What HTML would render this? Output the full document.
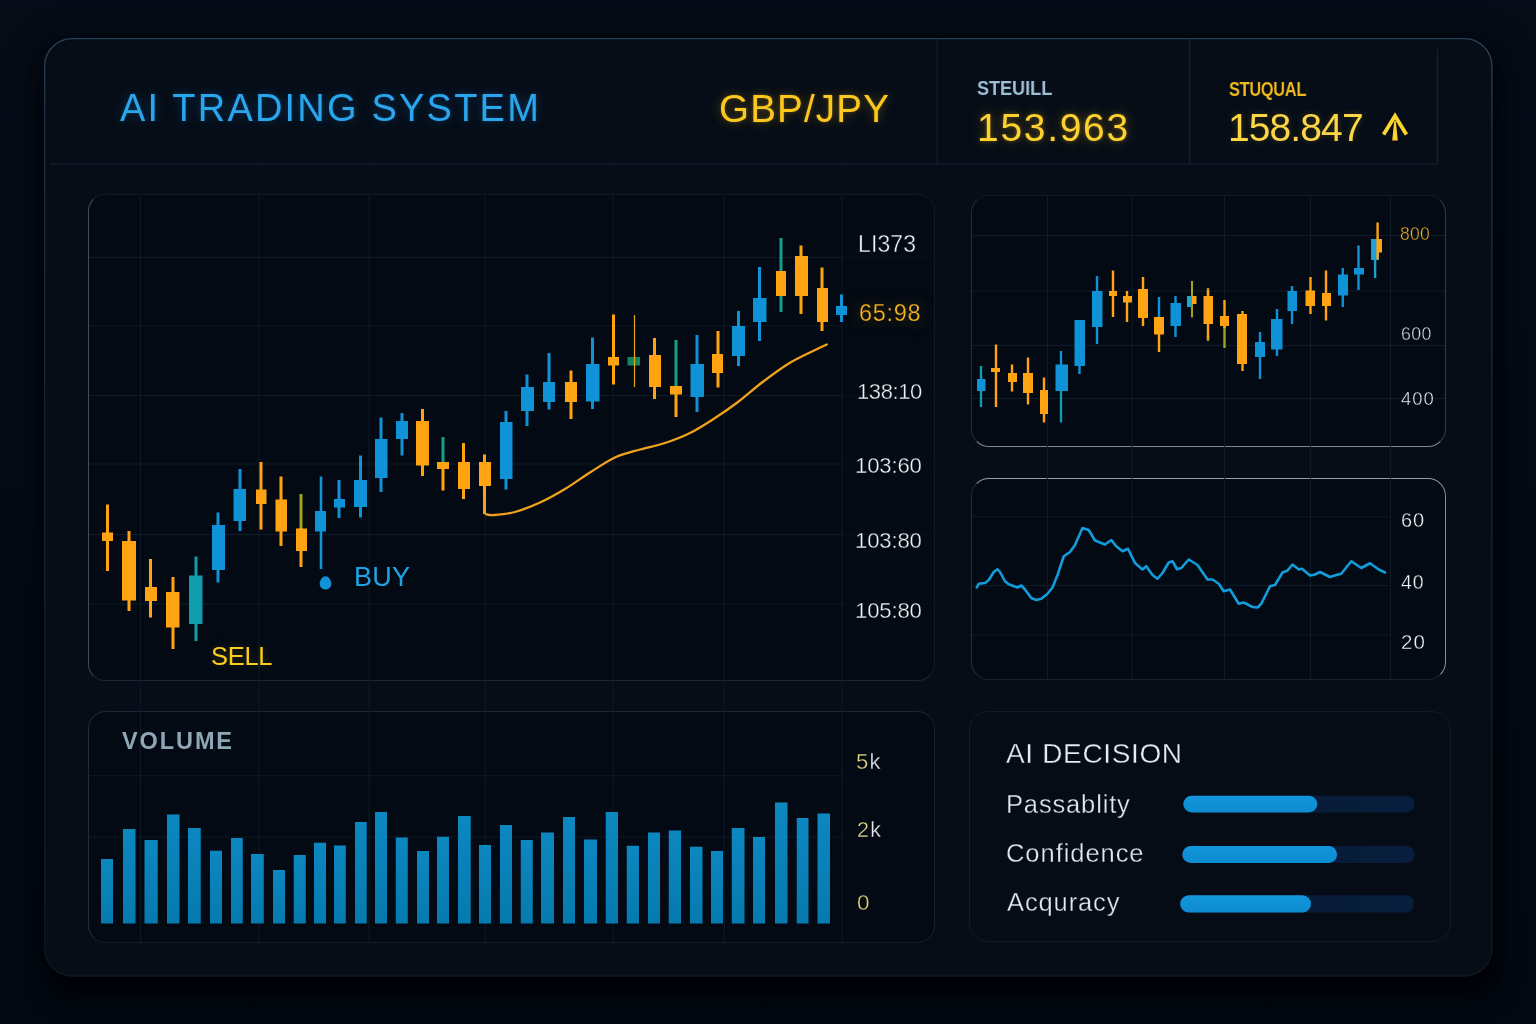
<!DOCTYPE html>
<html><head><meta charset="utf-8"><title>AI Trading System</title>
<style>
html,body{margin:0;padding:0;background:#030a14;}
body{width:1536px;height:1024px;overflow:hidden;position:relative;font-family:"Liberation Sans",sans-serif;}
#bg{position:absolute;left:0;top:0;width:1536px;height:1024px;background:linear-gradient(180deg,#050c17 0%,#040b15 45%,#030912 100%);}
#outer{position:absolute;left:44px;top:38px;width:1448.5px;height:938.5px;border:0;border-radius:28px;background:#060d17;box-shadow:5px 22px 26px -6px rgba(0,1,5,.92),0 2px 14px rgba(0,2,6,.55),2px 8px 44px rgba(0,2,6,.3);}
.panel{position:absolute;box-sizing:border-box;border:1.2px solid #27313e;background:#030a13;}
.t{position:absolute;white-space:nowrap;line-height:1;will-change:transform;}
.th{-webkit-text-stroke:0.36px #030a13;}
.th2{-webkit-text-stroke:0.32px #050c16;}
svg{position:absolute;left:0;top:0;}
</style></head><body>
<div id="bg"></div>
<div id="outer"></div>
<div class="panel" style="left:88px;top:194px;width:846.5px;height:486.5px;border-radius:17px;border-color:#0e1b29 #0f1a26 #19293b #474c56;"></div>
<div class="panel" style="left:971px;top:195px;width:475px;height:252px;border-radius:18px;border-color:#101c2a #333c47 #85888c #242d38;"></div>
<div class="panel" style="left:971px;top:478px;width:475px;height:202px;border-radius:18px;border-color:#9a9ca0 #8a8d93 #17222f #242d38;"></div>
<div class="panel" style="left:88px;top:710.5px;width:846.5px;height:232.5px;border-radius:18px;border-color:#19293b #131f2d #101c2a #222c38;"></div>
<div class="panel" style="left:969px;top:711px;width:482px;height:230.5px;border-radius:20px;border-color:#0f1d2b;background:#050c16;"></div>
<svg width="1536" height="1024" viewBox="0 0 1536 1024">
<defs>
<linearGradient id="ob" x1="0" y1="0" x2="0" y2="1"><stop offset="0" stop-color="#2a4158"/><stop offset="0.1" stop-color="#1b2f43"/><stop offset="0.45" stop-color="#13232f"/><stop offset="1" stop-color="#0b1621"/></linearGradient>
<linearGradient id="vg" x1="0" y1="0" x2="0" y2="1"><stop offset="0" stop-color="#0c87c0"/><stop offset="1" stop-color="#067aae"/></linearGradient>
<linearGradient id="pf" x1="0" y1="0" x2="0" y2="1"><stop offset="0" stop-color="#1296dc"/><stop offset="1" stop-color="#0d8bd0"/></linearGradient>
<linearGradient id="tk" x1="0" y1="0" x2="1" y2="0"><stop offset="0" stop-color="#061930"/><stop offset="1" stop-color="#081e3d"/></linearGradient>
<filter id="gl2" x="-5%" y="-20%" width="110%" height="140%"><feGaussianBlur stdDeviation="6"/></filter>
<filter id="gl" x="-20%" y="-20%" width="140%" height="140%"><feGaussianBlur stdDeviation="3"/></filter>
</defs>
<rect x="44.65" y="38.65" width="1447.2" height="937.2" rx="27.5" fill="none" stroke="url(#ob)" stroke-width="1.3"/>
<!-- header lines -->
<rect x="50" y="163.4" width="1387.5" height="1.2" fill="#112033"/>
<rect x="936.6999999999999" y="39" width="1.2" height="125" fill="#112033"/>
<rect x="1189.0" y="39" width="1.2" height="125" fill="#112033"/>
<rect x="1436.8000000000002" y="49" width="1.2" height="115" fill="#112033"/>
<rect x="140.1" y="196" width="1" height="746" fill="#0f1b28"/>
<rect x="140.1" y="165" width="1" height="29" fill="#06101a"/>
<rect x="258.5" y="196" width="1" height="746" fill="#0f1b28"/>
<rect x="258.5" y="165" width="1" height="29" fill="#06101a"/>
<rect x="368.5" y="196" width="1" height="746" fill="#0f1b28"/>
<rect x="368.5" y="165" width="1" height="29" fill="#06101a"/>
<rect x="484.8" y="196" width="1" height="746" fill="#0f1b28"/>
<rect x="484.8" y="165" width="1" height="29" fill="#06101a"/>
<rect x="612.5" y="196" width="1" height="746" fill="#0f1b28"/>
<rect x="612.5" y="165" width="1" height="29" fill="#06101a"/>
<rect x="723.8" y="196" width="1" height="746" fill="#0f1b28"/>
<rect x="723.8" y="165" width="1" height="29" fill="#06101a"/>
<rect x="841.5" y="196" width="1" height="746" fill="#0f1b28"/>
<rect x="841.5" y="165" width="1" height="29" fill="#06101a"/>
<rect x="89" y="257.0" width="753" height="1" fill="#0f1b28"/>
<rect x="842" y="257.0" width="91" height="1" fill="#07111a"/>
<rect x="89" y="325.5" width="753" height="1" fill="#0f1b28"/>
<rect x="842" y="325.5" width="91" height="1" fill="#07111a"/>
<rect x="89" y="395.0" width="753" height="1" fill="#0f1b28"/>
<rect x="842" y="395.0" width="91" height="1" fill="#07111a"/>
<rect x="89" y="463.5" width="753" height="1" fill="#0f1b28"/>
<rect x="842" y="463.5" width="91" height="1" fill="#07111a"/>
<rect x="89" y="534.0" width="753" height="1" fill="#0f1b28"/>
<rect x="842" y="534.0" width="91" height="1" fill="#07111a"/>
<rect x="89" y="603.5" width="753" height="1" fill="#0f1b28"/>
<rect x="842" y="603.5" width="91" height="1" fill="#07111a"/>
<rect x="1047.0" y="196" width="1" height="484" fill="#0f1b28"/>
<rect x="1131.7" y="196" width="1" height="484" fill="#0f1b28"/>
<rect x="1224.0" y="196" width="1" height="484" fill="#0f1b28"/>
<rect x="1310.0" y="196" width="1" height="484" fill="#0f1b28"/>
<rect x="1390.0" y="196" width="1" height="484" fill="#0f1b28"/>
<rect x="972" y="235.0" width="473" height="1" fill="#0f1b28"/>
<rect x="972" y="290.5" width="473" height="1" fill="#0f1b28"/>
<rect x="972" y="345.0" width="473" height="1" fill="#0f1b28"/>
<rect x="972" y="398.0" width="473" height="1" fill="#0f1b28"/>
<rect x="972" y="516.25" width="418.5" height="1" fill="#0f1b28"/>
<rect x="972" y="585.0" width="418.5" height="1" fill="#0f1b28"/>
<rect x="972" y="634.5" width="418.5" height="1" fill="#0f1b28"/>
<rect x="89" y="775.25" width="753" height="1" fill="#0f1b28"/>
<rect x="89" y="836.5" width="753" height="1" fill="#0f1b28"/>
<!-- main candles -->
<rect x="106.00" y="504.5" width="3" height="66.50" fill="#ffa312"/>
<rect x="102" y="532.5" width="11.00" height="8.50" fill="#ffa312"/>
<rect x="127.50" y="531" width="3" height="80.00" fill="#ffa312"/>
<rect x="122" y="541" width="14.00" height="59.50" fill="#ffa312"/>
<rect x="149.00" y="559" width="3" height="58.50" fill="#ffa312"/>
<rect x="145" y="587" width="12.00" height="14.00" fill="#ffa312"/>
<rect x="171.50" y="577" width="3" height="72.00" fill="#ffa312"/>
<rect x="166" y="592" width="13.50" height="35.50" fill="#ffa312"/>
<rect x="194.50" y="556.5" width="3" height="84.50" fill="#0f9dac"/>
<rect x="189" y="575.5" width="13.50" height="48.50" fill="#0f9dac"/>
<rect x="216.50" y="512.5" width="3" height="70.00" fill="#1093d6"/>
<rect x="212" y="525" width="13.00" height="45.00" fill="#1093d6"/>
<rect x="238.50" y="469" width="3" height="62.00" fill="#1093d6"/>
<rect x="233.5" y="489" width="12.50" height="32.00" fill="#1093d6"/>
<rect x="259.50" y="462" width="3" height="67.50" fill="#ffa312"/>
<rect x="256" y="489.5" width="10.50" height="14.50" fill="#ffa312"/>
<rect x="279.50" y="476.5" width="3" height="69.50" fill="#ffa312"/>
<rect x="275.5" y="499.5" width="11.50" height="32.00" fill="#ffa312"/>
<rect x="299.50" y="494" width="3" height="35.00" fill="#a3a31a"/>
<rect x="299.50" y="528" width="3" height="39.00" fill="#ffa312"/>
<rect x="296" y="528.5" width="11.00" height="22.50" fill="#ffa312"/>
<rect x="319.70" y="476.5" width="2.6" height="92.50" fill="#1093d6"/>
<rect x="315" y="511" width="11.00" height="20.50" fill="#1093d6"/>
<rect x="337.50" y="480" width="3" height="38.00" fill="#1093d6"/>
<rect x="334" y="499" width="11.00" height="8.50" fill="#1093d6"/>
<rect x="359.00" y="455.5" width="3" height="62.00" fill="#1093d6"/>
<rect x="354" y="480" width="13.00" height="27.00" fill="#1093d6"/>
<rect x="379.50" y="417.5" width="3" height="74.50" fill="#1093d6"/>
<rect x="375" y="439" width="12.50" height="39.00" fill="#1093d6"/>
<rect x="400.50" y="413" width="3" height="42.50" fill="#1093d6"/>
<rect x="396" y="421" width="12.00" height="18.00" fill="#1093d6"/>
<rect x="421.00" y="409" width="3" height="67.00" fill="#ffa312"/>
<rect x="416" y="421" width="13.00" height="44.50" fill="#ffa312"/>
<rect x="441.50" y="437" width="3" height="25.00" fill="#159f88"/>
<rect x="441.50" y="462" width="3" height="28.50" fill="#ffa312"/>
<rect x="437" y="462" width="12.00" height="7.00" fill="#ffa312"/>
<rect x="462.00" y="443" width="3" height="56.00" fill="#ffa312"/>
<rect x="458" y="462" width="12.00" height="27.00" fill="#ffa312"/>
<rect x="483.00" y="454.5" width="3" height="59.50" fill="#ffa312"/>
<rect x="479" y="462" width="12.00" height="24.00" fill="#ffa312"/>
<rect x="504.50" y="411" width="3" height="78.50" fill="#1093d6"/>
<rect x="500" y="422" width="12.50" height="57.00" fill="#1093d6"/>
<rect x="525.50" y="374.5" width="3" height="51.50" fill="#1093d6"/>
<rect x="521" y="387" width="13.00" height="24.00" fill="#1093d6"/>
<rect x="547.50" y="353" width="3" height="56.50" fill="#1093d6"/>
<rect x="543" y="382" width="12.00" height="20.00" fill="#1093d6"/>
<rect x="569.50" y="370.5" width="3" height="48.50" fill="#ffa312"/>
<rect x="565" y="382" width="12.00" height="20.00" fill="#ffa312"/>
<rect x="591.00" y="337.5" width="3" height="71.50" fill="#1093d6"/>
<rect x="586" y="364" width="13.50" height="37.50" fill="#1093d6"/>
<rect x="612.00" y="314.5" width="3" height="70.00" fill="#ffa312"/>
<rect x="608" y="357" width="11.00" height="8.50" fill="#ffa312"/>
<rect x="627.5" y="357" width="12.50" height="8.50" fill="#15855f"/>
<rect x="633.90" y="315" width="1.2" height="72.00" fill="#e8a818"/>
<rect x="653.00" y="338" width="3" height="61.00" fill="#ffa312"/>
<rect x="649" y="355" width="12.00" height="32.00" fill="#ffa312"/>
<rect x="674.50" y="340" width="3" height="46.00" fill="#159f88"/>
<rect x="674.50" y="386" width="3" height="31.00" fill="#ffa312"/>
<rect x="670" y="386" width="12.00" height="8.50" fill="#ffa312"/>
<rect x="695.50" y="335" width="3" height="77.00" fill="#1093d6"/>
<rect x="690.5" y="364" width="13.50" height="33.00" fill="#1093d6"/>
<rect x="716.50" y="331" width="3" height="56.50" fill="#ffa312"/>
<rect x="712" y="354" width="11.00" height="19.00" fill="#ffa312"/>
<rect x="737.00" y="311" width="3" height="55.00" fill="#1093d6"/>
<rect x="732" y="326" width="13.00" height="30.00" fill="#1093d6"/>
<rect x="758.00" y="267" width="3" height="74.00" fill="#1093d6"/>
<rect x="753" y="298" width="13.50" height="24.00" fill="#1093d6"/>
<rect x="779.50" y="238" width="3" height="33.00" fill="#159f88"/>
<rect x="779.50" y="296" width="3" height="16.00" fill="#159f88"/>
<rect x="779.50" y="271" width="3" height="25.00" fill="#ffa312"/>
<rect x="776" y="271" width="10.00" height="25.00" fill="#ffa312"/>
<rect x="799.50" y="245.5" width="3" height="68.50" fill="#ffa312"/>
<rect x="795" y="256" width="13.00" height="40.00" fill="#ffa312"/>
<rect x="820.50" y="267.5" width="3" height="63.50" fill="#ffa312"/>
<rect x="817" y="288" width="11.00" height="34.00" fill="#ffa312"/>
<rect x="840.00" y="294.5" width="3" height="27.50" fill="#1093d6"/>
<rect x="836" y="306" width="11.00" height="9.00" fill="#1093d6"/>
<path d="M484.6,500 L484.6,512 C484.92,512.38 484.77,513.80 486.5,514.3 C488.23,514.80 490.25,515.38 495,515 C499.75,514.62 507.50,514.08 515,512 C522.50,509.92 531.67,506.33 540,502.5 C548.33,498.67 556.67,494.00 565,489 C573.33,484.00 581.67,477.75 590,472.5 C598.33,467.25 606.67,461.33 615,457.5 C623.33,453.67 631.67,451.92 640,449.5 C648.33,447.08 656.67,445.75 665,443 C673.33,440.25 681.67,437.17 690,433 C698.33,428.83 707.00,423.17 715,418 C723.00,412.83 730.17,407.92 738,402 C745.83,396.08 753.67,388.83 762,382.5 C770.33,376.17 779.67,369.17 788,364 C796.33,358.83 805.54,354.75 812,351.5 C818.46,348.25 824.29,345.67 826.75,344.5" fill="none" stroke="#f0a21a" stroke-width="2.3" stroke-linejoin="round" stroke-linecap="round"/>
<path d="M325.5,576.2 C328.3,576.2 331.3,579.8 331.3,583.8 C331.3,587.2 328.8,589.6 325.5,589.6 C322.2,589.6 319.7,587.2 319.7,583.8 C319.7,579.8 322.7,576.2 325.5,576.2Z" fill="#1093d6"/>
<!-- mini candles -->
<rect x="979.80" y="366" width="2.4" height="41.00" fill="#0f9dac"/>
<rect x="979.80" y="379" width="2.4" height="12.00" fill="#1093d6"/>
<rect x="977" y="379" width="8.50" height="12.00" fill="#1093d6"/>
<rect x="994.80" y="344.5" width="2.4" height="62.50" fill="#ffa312"/>
<rect x="991" y="368" width="9.00" height="4.00" fill="#ffa312"/>
<rect x="1010.80" y="364.5" width="2.4" height="27.00" fill="#ffa312"/>
<rect x="1008" y="373" width="9.00" height="9.00" fill="#ffa312"/>
<rect x="1026.80" y="357.5" width="2.4" height="47.00" fill="#ffa312"/>
<rect x="1023" y="373" width="10.00" height="20.00" fill="#ffa312"/>
<rect x="1042.80" y="377.5" width="2.4" height="45.00" fill="#ffa312"/>
<rect x="1040" y="390" width="8.00" height="24.00" fill="#ffa312"/>
<rect x="1059.80" y="391" width="2.4" height="31.50" fill="#0f9dac"/>
<rect x="1059.80" y="351" width="2.4" height="40.00" fill="#1093d6"/>
<rect x="1055.5" y="364.5" width="12.50" height="26.50" fill="#1093d6"/>
<rect x="1078.30" y="320" width="2.4" height="54.00" fill="#1093d6"/>
<rect x="1074.5" y="320" width="10.50" height="46.00" fill="#1093d6"/>
<rect x="1095.80" y="276" width="2.4" height="68.00" fill="#1093d6"/>
<rect x="1092" y="291" width="10.50" height="36.00" fill="#1093d6"/>
<rect x="1111.80" y="270.5" width="2.4" height="46.50" fill="#ffa312"/>
<rect x="1109" y="291" width="8.00" height="5.00" fill="#ffa312"/>
<rect x="1125.80" y="291" width="2.4" height="31.00" fill="#ffa312"/>
<rect x="1123" y="296" width="9.00" height="6.50" fill="#ffa312"/>
<rect x="1141.80" y="277" width="2.4" height="49.00" fill="#ffa312"/>
<rect x="1138" y="289" width="10.00" height="29.00" fill="#ffa312"/>
<rect x="1157.80" y="297" width="2.4" height="20.00" fill="#1093d6"/>
<rect x="1157.80" y="317" width="2.4" height="35.00" fill="#ffa312"/>
<rect x="1154" y="317" width="10.00" height="17.50" fill="#ffa312"/>
<rect x="1174.30" y="296" width="2.4" height="41.00" fill="#1093d6"/>
<rect x="1170.5" y="303" width="10.50" height="23.00" fill="#1093d6"/>
<rect x="1191.00" y="281" width="2" height="36.50" fill="#a3a31a"/>
<rect x="1191.00" y="296" width="2" height="8.00" fill="#ffa312"/>
<rect x="1191.5" y="296" width="5.00" height="8.00" fill="#ffa312"/>
<rect x="1206.80" y="288" width="2.4" height="8.00" fill="#a3a31a"/>
<rect x="1206.80" y="336" width="2.4" height="5.00" fill="#a3a31a"/>
<rect x="1206.80" y="290" width="2.4" height="49.00" fill="#ffa312"/>
<rect x="1203.5" y="296" width="9.50" height="28.00" fill="#ffa312"/>
<rect x="1223.30" y="326" width="2.4" height="22.00" fill="#a3a31a"/>
<rect x="1223.30" y="300" width="2.4" height="28.00" fill="#ffa312"/>
<rect x="1220" y="316" width="9.00" height="10.00" fill="#ffa312"/>
<rect x="1241.30" y="311" width="2.4" height="60.00" fill="#ffa312"/>
<rect x="1237" y="314" width="10.00" height="50.00" fill="#ffa312"/>
<rect x="1258.80" y="332" width="2.4" height="47.00" fill="#1093d6"/>
<rect x="1255" y="342" width="10.00" height="15.00" fill="#1093d6"/>
<rect x="1275.80" y="309" width="2.4" height="47.00" fill="#1093d6"/>
<rect x="1271" y="319" width="11.50" height="30.50" fill="#1093d6"/>
<rect x="1290.80" y="286" width="2.4" height="38.00" fill="#1093d6"/>
<rect x="1287.5" y="291" width="9.50" height="20.00" fill="#1093d6"/>
<rect x="1309.30" y="277" width="2.4" height="37.00" fill="#ffa312"/>
<rect x="1305.5" y="290.5" width="9.50" height="15.50" fill="#ffa312"/>
<rect x="1324.80" y="270.5" width="2.4" height="50.00" fill="#ffa312"/>
<rect x="1322" y="293" width="9.00" height="13.00" fill="#ffa312"/>
<rect x="1341.55" y="268" width="2.4" height="39.00" fill="#1093d6"/>
<rect x="1338" y="274.5" width="10.00" height="21.00" fill="#1093d6"/>
<rect x="1357.30" y="245.5" width="2.4" height="44.50" fill="#1093d6"/>
<rect x="1354" y="268" width="10.00" height="6.50" fill="#1093d6"/>
<rect x="1373.9" y="260" width="2.4" height="18" fill="#1aa3c8"/>
<rect x="1371" y="239" width="8" height="21" fill="#1e9fd8"/>
<rect x="1376.4" y="222.5" width="2.4" height="37" fill="#ffa312"/>
<rect x="1377.5" y="239" width="4.5" height="13.5" fill="#ffa312"/>
<rect x="1187" y="296" width="5" height="11" fill="#1ea6cc"/>
<!-- oscillator -->
<polyline points="976.75,587.50 978.75,583.75 985.00,583.00 988.75,580.00 993.75,572.00 997.50,569.25 1000.00,572.00 1005.00,581.25 1008.75,584.25 1017.50,587.50 1021.25,585.50 1025.00,589.50 1031.25,598.00 1036.25,600.00 1041.25,598.75 1047.50,593.75 1052.50,587.50 1057.50,575.00 1063.75,556.25 1070.00,552.00 1075.00,545.00 1082.50,528.00 1088.75,530.00 1095.00,540.50 1100.00,542.50 1105.00,544.50 1111.25,540.00 1116.25,546.25 1122.50,551.25 1128.00,548.75 1135.00,563.00 1142.50,569.50 1146.25,566.25 1152.50,575.00 1157.50,578.75 1162.50,573.00 1168.75,562.50 1172.50,561.25 1177.00,569.25 1181.25,568.00 1188.75,559.50 1197.50,565.00 1207.50,579.50 1212.50,579.50 1218.75,583.75 1223.75,591.25 1230.00,589.50 1238.75,603.75 1243.75,602.50 1252.50,607.00 1257.50,607.50 1261.25,603.75 1270.00,586.25 1275.00,585.00 1282.50,572.50 1287.50,570.50 1292.50,564.50 1298.75,569.50 1302.00,568.75 1310.00,575.50 1315.00,574.50 1320.00,572.00 1330.00,577.00 1336.25,575.00 1341.25,573.75 1351.25,561.25 1361.25,568.00 1370.00,563.25 1378.75,569.50 1385.00,572.50" fill="none" stroke="#119ddc" stroke-width="2.6" stroke-linejoin="round" stroke-linecap="round"/>
<!-- volume -->
<rect x="101" y="859" width="12.00" height="64.50" fill="url(#vg)"/>
<rect x="123" y="829" width="12.50" height="94.50" fill="url(#vg)"/>
<rect x="144.5" y="840" width="13.25" height="83.50" fill="url(#vg)"/>
<rect x="167" y="814.5" width="12.50" height="109.00" fill="url(#vg)"/>
<rect x="188" y="828" width="12.75" height="95.50" fill="url(#vg)"/>
<rect x="210" y="850.75" width="12.00" height="72.75" fill="url(#vg)"/>
<rect x="231" y="838" width="11.75" height="85.50" fill="url(#vg)"/>
<rect x="251" y="854" width="12.75" height="69.50" fill="url(#vg)"/>
<rect x="273" y="870" width="12.00" height="53.50" fill="url(#vg)"/>
<rect x="293.75" y="855" width="12.00" height="68.50" fill="url(#vg)"/>
<rect x="314" y="842.75" width="12.00" height="80.75" fill="url(#vg)"/>
<rect x="334" y="845.5" width="11.75" height="78.00" fill="url(#vg)"/>
<rect x="355" y="822" width="11.75" height="101.50" fill="url(#vg)"/>
<rect x="375" y="812" width="12.00" height="111.50" fill="url(#vg)"/>
<rect x="395.75" y="837.5" width="12.00" height="86.00" fill="url(#vg)"/>
<rect x="417" y="851" width="12.00" height="72.50" fill="url(#vg)"/>
<rect x="437" y="836.75" width="12.00" height="86.75" fill="url(#vg)"/>
<rect x="458" y="816" width="12.75" height="107.50" fill="url(#vg)"/>
<rect x="479" y="845" width="12.00" height="78.50" fill="url(#vg)"/>
<rect x="500" y="825" width="12.00" height="98.50" fill="url(#vg)"/>
<rect x="520.75" y="840" width="12.00" height="83.50" fill="url(#vg)"/>
<rect x="541" y="832.5" width="13.00" height="91.00" fill="url(#vg)"/>
<rect x="563" y="817" width="12.00" height="106.50" fill="url(#vg)"/>
<rect x="584" y="839.5" width="13.00" height="84.00" fill="url(#vg)"/>
<rect x="605.75" y="812" width="12.25" height="111.50" fill="url(#vg)"/>
<rect x="626.75" y="845.75" width="12.25" height="77.75" fill="url(#vg)"/>
<rect x="648" y="832.5" width="12.00" height="91.00" fill="url(#vg)"/>
<rect x="668.75" y="830.5" width="12.25" height="93.00" fill="url(#vg)"/>
<rect x="690" y="846.75" width="12.50" height="76.75" fill="url(#vg)"/>
<rect x="711" y="851" width="12.00" height="72.50" fill="url(#vg)"/>
<rect x="731.75" y="828" width="12.75" height="95.50" fill="url(#vg)"/>
<rect x="753" y="837" width="12.00" height="86.50" fill="url(#vg)"/>
<rect x="775" y="802.5" width="12.50" height="121.00" fill="url(#vg)"/>
<rect x="796.75" y="818" width="11.75" height="105.50" fill="url(#vg)"/>
<rect x="817.5" y="813.5" width="12.50" height="110.00" fill="url(#vg)"/>
<!-- progress -->
<rect x="1183.3" y="795.7" width="231.2" height="16.8" rx="8.4" fill="url(#tk)"/>
<rect x="1183.3" y="795.7" width="134" height="16.8" rx="8.4" fill="url(#pf)"/>
<rect x="1182.3" y="846" width="232.3" height="17" rx="8.5" fill="url(#tk)"/>
<rect x="1182.3" y="846" width="154.8" height="17" rx="8.5" fill="url(#pf)"/>
<rect x="1180.2" y="895.3" width="234" height="17.2" rx="8.6" fill="url(#tk)"/>
<rect x="1180.2" y="895.3" width="130.8" height="17.2" rx="8.6" fill="url(#pf)"/>
<!-- arrow -->
<g fill="none" stroke="#ffd32e" stroke-width="3.8" stroke-linecap="butt" stroke-linejoin="miter" stroke-miterlimit="10">
<polyline points="1383.6,134.6 1395,116 1406.4,134.6"/>
</g>
<polygon points="1394.2,121 1395.8,121 1397.8,140.6 1392.2,140.6" fill="#ffd32e"/>
</svg>

<!-- header text -->
<div class="t" id="title" style="left:119.5px;top:88.8px;font-size:38px;letter-spacing:2.2px;color:#2aa6ec;text-shadow:0 0 12px rgba(25,130,215,.34),0 0 3px rgba(25,130,215,.25);">AI TRADING SYSTEM</div>
<div class="t" id="pair" style="left:718.5px;top:90px;font-size:38.5px;letter-spacing:1.2px;color:#fcc81e;text-shadow:0 0 12px rgba(240,180,20,.35),0 0 3px rgba(250,190,20,.3);">GBP/JPY</div>
<div class="t" id="l1" style="left:976.5px;top:77.2px;font-size:21px;font-weight:bold;transform-origin:0 0;transform:scaleX(.86);color:#9dbfd8;">STEUILL</div>
<div class="t" id="v1" style="left:976.5px;top:108px;font-size:39px;letter-spacing:1.7px;color:#fdd130;text-shadow:0 0 14px rgba(240,180,30,.35),0 0 4px rgba(250,200,30,.3);">153.963</div>
<div class="t" id="l2" style="left:1228.5px;top:79px;font-size:20.5px;font-weight:bold;transform-origin:0 0;transform:scaleX(.8);letter-spacing:-0.4px;color:#f0ba1c;">STUQUAL</div>
<div class="t" id="v2" style="left:1227.5px;top:108px;font-size:39px;letter-spacing:-0.9px;color:#fdd648;text-shadow:0 0 7px rgba(250,200,30,.22);">158.847</div>

<!-- main axis labels -->
<div class="t th" id="a1" style="left:858.2px;top:232.5px;font-size:23px;letter-spacing:0.1px;color:#eef2f5;">LI373</div>
<div class="t" id="a2" style="left:859px;top:301.5px;font-size:23.5px;letter-spacing:0.7px;color:#f6b51c;-webkit-text-stroke:0.25px #0b0d12;text-shadow:0 0 16px rgba(210,150,20,.38),0 0 30px rgba(180,120,20,.18);">65:98</div>
<div class="t th" id="a3" style="left:857px;top:380.5px;font-size:22px;letter-spacing:-0.4px;color:#eef2f5;">138:10</div>
<div class="t th" id="a4" style="left:855px;top:455.3px;font-size:22.2px;letter-spacing:-0.2px;color:#eef2f5;">103:60</div>
<div class="t th" id="a5" style="left:855px;top:529.7px;font-size:22.2px;letter-spacing:-0.2px;color:#eef2f5;">103:80</div>
<div class="t th" id="a6" style="left:855px;top:599.7px;font-size:22.2px;letter-spacing:-0.2px;color:#eef2f5;">105:80</div>
<div class="t" id="buy" style="left:353.5px;top:564px;font-size:27px;letter-spacing:0.3px;color:#1fa3e6;">BUY</div>
<div class="t" id="sell" style="left:211px;top:644px;font-size:25.5px;letter-spacing:-0.3px;color:#fccc1e;text-shadow:0 0 8px rgba(250,200,30,.22);">SELL</div>

<!-- mini axis -->
<div class="t th" id="m1" style="left:1399.5px;top:225.8px;font-size:17.5px;letter-spacing:0.3px;color:#ecb024;">800</div>
<div class="t th" id="m2" style="left:1401px;top:325.6px;font-size:17.8px;letter-spacing:0.3px;color:#d5dbe0;">600</div>
<div class="t th" id="m3" style="left:1401px;top:390px;font-size:18.5px;letter-spacing:1px;color:#e4e9ed;">400</div>
<!-- osc axis -->
<div class="t th" id="o1" style="left:1401px;top:509.5px;font-size:20px;letter-spacing:1px;color:#f0f3f6;">60</div>
<div class="t th" id="o2" style="left:1401px;top:573.3px;font-size:19.5px;letter-spacing:1px;color:#f0f3f6;">40</div>
<div class="t th" id="o3" style="left:1400.5px;top:631.5px;font-size:20.5px;letter-spacing:1px;color:#f0f3f6;">20</div>
<!-- volume -->
<div class="t" id="vol" style="left:122px;top:729.5px;font-size:23.5px;font-weight:bold;letter-spacing:1.9px;color:#8fa6b4;">VOLUME</div>
<div class="t th" id="k1" style="left:855.5px;top:750.5px;font-size:22px;letter-spacing:1.2px;color:#e9d68a;">5<span style="color:#e6e9ec">k</span></div>
<div class="t th" id="k2" style="left:856.5px;top:820.3px;font-size:21.5px;letter-spacing:1.2px;color:#e9d68a;">2<span style="color:#e6e9ec">k</span></div>
<div class="t th" id="k3" style="left:857px;top:892px;font-size:22.5px;color:#e8cf6e;">0</div>
<!-- decision -->
<div class="t th2" id="d0" style="left:1006px;top:740px;font-size:28px;letter-spacing:0.65px;color:#e4ebf1;">AI DECISION</div>
<div class="t th2" id="d1" style="left:1006px;top:791.9px;font-size:25.5px;letter-spacing:.85px;color:#e1e8ee;">Passablity</div>
<div class="t th2" id="d2" style="left:1006px;top:841.1px;font-size:25.5px;letter-spacing:.95px;color:#e1e8ee;">Confidence</div>
<div class="t th2" id="d3" style="left:1006.5px;top:890.3px;font-size:25.5px;letter-spacing:.88px;color:#e1e8ee;">Acquracy</div>
</body></html>
